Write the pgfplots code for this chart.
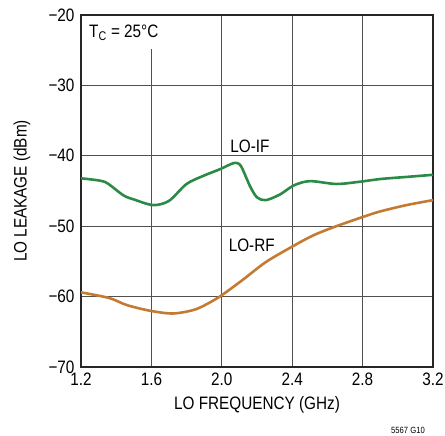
\documentclass[border=0pt]{standalone}
\usepackage{fontspec}
\setmainfont{Liberation Sans}[FakeStretch=0.85]
\usepackage{pgfplots}
\pgfplotsset{compat=1.18}
\definecolor{ifgreen}{HTML}{2A8A46}
\definecolor{rforange}{HTML}{C47A32}
\definecolor{gridgray}{HTML}{505050}

\begin{document}
\begin{tikzpicture}
  \useasboundingbox (-81pt,-69pt) rectangle (364pt,367pt);
  \begin{axis}[
      at={(0,0)}, anchor=south west,
      scale only axis,
      width=352pt, height=352pt,
      xmin=1.2, xmax=3.2, ymin=-70, ymax=-20,
      xtick={1.2,1.6,2.0,2.4,2.8,3.2},
      xticklabels={1.2,1.6,2.0,2.4,2.8,3.2},
      ytick={-70,-60,-50,-40,-30,-20},
      yticklabels={−70,−60,−50,−40,−30,−20},
      major tick length=0pt,
      grid=major,
      major grid style={gridgray, line width=1.1pt},
      axis line style={black!85, line width=1.3pt},
      tick label style={font=\fontsize{18}{20}\selectfont},
      x tick label style={yshift=-2pt},
      y tick label style={xshift=-3pt},
      xlabel={LO FREQUENCY (GHz)},
      ylabel={LO LEAKAGE (dBm)},
      label style={font=\fontsize{18}{20}\selectfont},
      xlabel style={at={(axis description cs:0.5,-0.108)}, anchor=center},
      ylabel style={at={(axis description cs:-0.168,0.5)}, anchor=center},
    ]
    % LO-IF
    \addplot[ifgreen, line width=2.6pt, smooth, tension=0.5] coordinates {
      (1.20,-43.2) (1.30,-43.5) (1.35,-43.9) (1.44,-45.6) (1.50,-46.2)
      (1.61,-47.0) (1.70,-46.4) (1.80,-44.0) (1.90,-42.8) (1.99,-41.9)
      (2.05,-41.2) (2.08,-41.0) (2.11,-41.5) (2.16,-44.3) (2.20,-45.9)
      (2.25,-46.3) (2.33,-45.5) (2.41,-44.2) (2.50,-43.6) (2.65,-44.0)
      (2.78,-43.7) (2.90,-43.3) (3.05,-43.0) (3.20,-42.7)
    };
    % LO-RF
    \addplot[rforange, line width=2.6pt, smooth, tension=0.5] coordinates {
      (1.20,-59.4) (1.36,-60.2) (1.46,-61.2) (1.59,-62.0) (1.72,-62.4)
      (1.84,-61.9) (1.92,-61.0) (2.00,-59.8) (2.12,-57.6) (2.25,-55.1)
      (2.40,-52.9) (2.52,-51.3) (2.64,-50.1) (2.80,-48.7) (2.90,-47.9)
      (3.05,-47.0) (3.20,-46.3)
    };
    \node[font=\fontsize{18}{20}\selectfont] at (axis cs:2.16,-38.7) {LO-IF};
    \node[font=\fontsize{18}{20}\selectfont] at (axis cs:2.17,-52.7) {LO-RF};
    \node[fill=white, anchor=north west, minimum height=33pt, inner xsep=7pt,
      font=\fontsize{18}{20}\selectfont]
      at ([xshift=1pt,yshift=-1pt]rel axis cs:0,1) {T\textsubscript{C} = 25°C};
  \end{axis}
  \node[font=\fontsize{9}{10}\selectfont] at (327pt,-63pt) {5567 G10};
\end{tikzpicture}
\end{document}
